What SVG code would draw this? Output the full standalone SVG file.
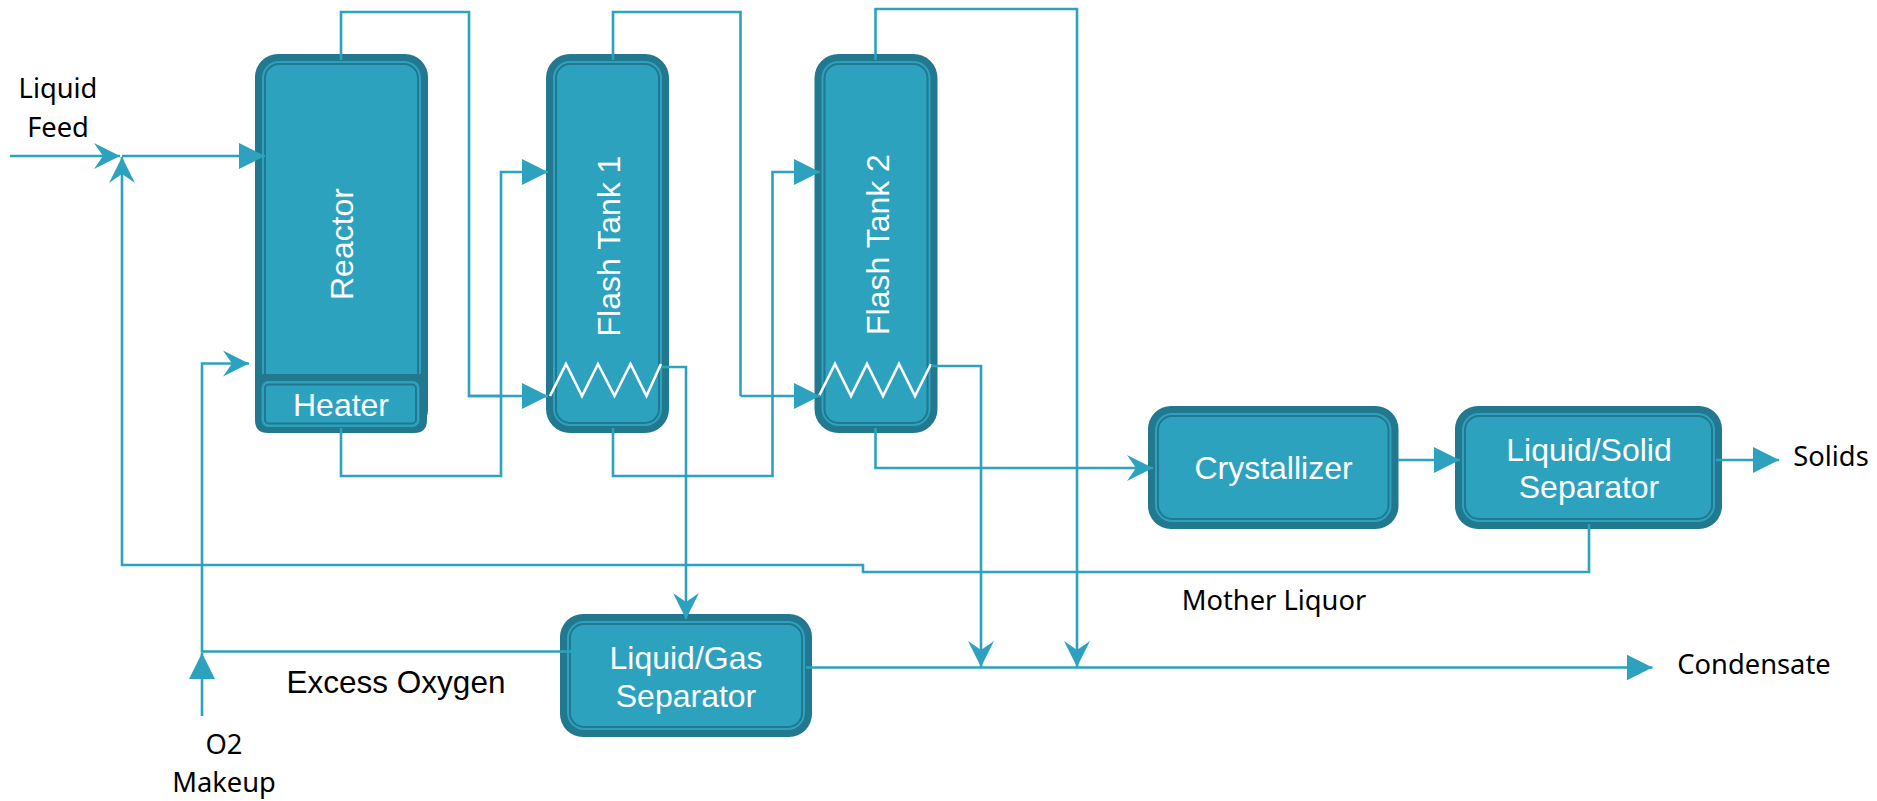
<svg xmlns="http://www.w3.org/2000/svg" width="1877" height="801" viewBox="0 0 1877 801">
<style>
.o{fill:#21788f}
.m{fill:#2da2bf}
.i{fill:#2da2bf;stroke:#21788f;stroke-width:2}
.c{fill:none;stroke:#2da2bf;stroke-width:2.6}
.f{marker-end:url(#tri)}
.n{marker-end:url(#notch)}
.w{font-family:"Liberation Sans",Arial,sans-serif;font-size:32px;fill:#fff;text-anchor:middle}
.b{font-family:"Noto Sans",sans-serif;font-size:27.3px;fill:#000;text-anchor:middle}
.z{fill:none;stroke:#fff;stroke-width:2.6}
</style>
<defs>
<marker id="tri" markerUnits="userSpaceOnUse" markerWidth="27" markerHeight="28" refX="26" refY="13.5" orient="auto"><path d="M0,0.5 L26,13.5 L0,26.5 Z" fill="#2da2bf"/></marker>
<marker id="notch" markerUnits="userSpaceOnUse" markerWidth="27" markerHeight="28" refX="26" refY="13.5" orient="auto"><path d="M0,0.5 L26,13.5 L0,26.5 L9,13.5 Z" fill="#2da2bf"/></marker>
</defs>
<rect width="1877" height="801" fill="#fff"/>
<g id="reactor">
<rect class="o" x="255" y="54" width="173" height="379" rx="23"/>
<rect class="m" x="262" y="61" width="159" height="340" rx="17"/>
<rect class="i" x="265" y="64" width="153" height="340" rx="14"/>
<text class="w" transform="translate(353 244) rotate(-90)">Reactor</text>
</g>
<g id="heater">
<path class="o" d="M255,374 H427 V420 Q427,433 414,433 H268 Q255,433 255,420 Z"/>
<rect class="m" x="261.500" y="381" width="158" height="46" rx="7"/>
<rect class="i" x="265" y="384.500" width="151" height="39" rx="4"/>
<text class="w" x="341" y="415.500">Heater</text>
</g>
<g id="flash-tank-1">
<rect class="o" x="546" y="54" width="123" height="379" rx="24"/>
<rect class="m" x="553" y="61" width="109" height="365" rx="17"/>
<rect class="i" x="556" y="64" width="103" height="359" rx="14"/>
<text class="w" transform="translate(619.500 246) rotate(-90)">Flash Tank 1</text>
<polyline class="z" points="550,396 566,364 582,396 598,364 614.500,396 630.500,364 646.500,396 661,364"/>
</g>
<g id="flash-tank-2">
<rect class="o" x="814.500" y="54" width="123" height="379" rx="24"/>
<rect class="m" x="821.500" y="61" width="109" height="365" rx="17"/>
<rect class="i" x="824.500" y="64" width="103" height="359" rx="14"/>
<text class="w" transform="translate(889 244.500) rotate(-90)">Flash Tank 2</text>
<polyline class="z" points="819,396 835,364 851,396 867,364 883,396 899,364 915,396 931,364"/>
</g>
<g id="crystallizer">
<rect class="o" x="1148" y="406" width="250.500" height="123" rx="23"/>
<rect class="m" x="1155" y="413" width="236.500" height="109" rx="17"/>
<rect class="i" x="1158" y="416" width="230.500" height="103" rx="14"/>
<text class="w" x="1273.500" y="479">Crystallizer</text>
</g>
<g id="ls-separator">
<rect class="o" x="1455" y="406" width="267" height="123" rx="23"/>
<rect class="m" x="1462" y="413" width="253" height="109" rx="17"/>
<rect class="i" x="1465" y="416" width="247" height="103" rx="14"/>
<text class="w" x="1589" y="461">Liquid/Solid</text>
<text class="w" x="1589" y="498">Separator</text>
</g>
<g id="lg-separator">
<rect class="o" x="560" y="614" width="252" height="123" rx="23"/>
<rect class="m" x="567" y="621" width="238" height="109" rx="17"/>
<rect class="i" x="570" y="624" width="232" height="103" rx="14"/>
<text class="w" x="686" y="669">Liquid/Gas</text>
<text class="w" x="686" y="707">Separator</text>
</g>
<g id="connectors">
<path class="c n" d="M10,156 H120"/>
<path class="c f" d="M122,156 H265"/>
<path class="c n" d="M1589,524 V572 H863 V565 H122 V157"/>
<path class="c n" d="M572,651.500 H202 V363.500 H249"/>
<path class="c f" d="M202,716 V653"/>
<path class="c" d="M341,60 V12 H469 V396 H500"/>
<path class="c f" d="M469,396 H548"/>
<path class="c f" d="M341,428 V476 H501 V172 H548"/>
<path class="c" d="M613,60 V12 H740.500 V396"/>
<path class="c f" d="M740.500,396 H820"/>
<path class="c f" d="M613,428 V476 H772.500 V172 H820"/>
<path class="c n" d="M875.500,60 V9 H1077 V667"/>
<path class="c n" d="M875.500,428 V468 H1153"/>
<path class="c n" d="M661.500,367 H686 V619"/>
<path class="c n" d="M931,366 H981 V667"/>
<path class="c f" d="M1398,460 H1460"/>
<path class="c f" d="M1716,460 H1779"/>
<path class="c f" d="M806,667.500 H1652.500"/>
</g>
<g id="labels">
<text class="b" x="58" y="98">Liquid</text>
<text class="b" x="58" y="137">Feed</text>
<text class="b" x="1831" y="466">Solids</text>
<text class="b" x="1274" y="610">Mother Liquor</text>
<text class="b" x="1754" y="674">Condensate</text>
<text x="396" y="693" style="font-family:'Liberation Sans',Arial,sans-serif;font-size:31.5px;fill:#000;text-anchor:middle">Excess Oxygen</text>
<text class="b" x="224" y="754">O2</text>
<text class="b" x="224" y="792">Makeup</text>
</g>
</svg>
